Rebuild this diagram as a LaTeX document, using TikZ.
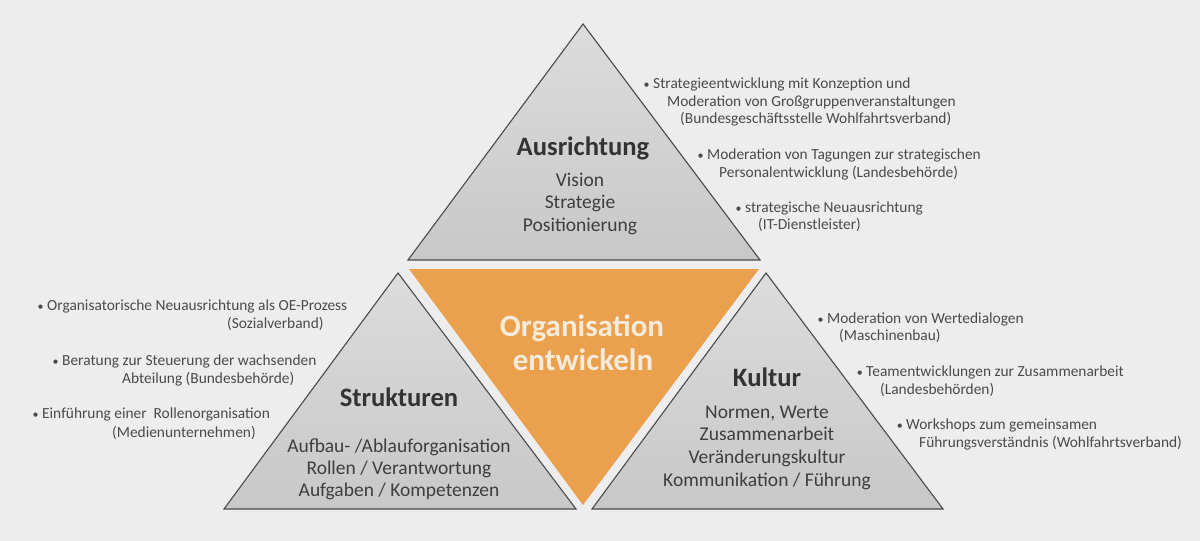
\documentclass[tikz,border=0pt]{standalone}
\usepackage{fontspec}
\setmainfont{Carlito}
\definecolor{bg}{HTML}{EDEDED}
\definecolor{tribord}{HTML}{4A4A4A}
\definecolor{tritop}{HTML}{DCDCDC}
\definecolor{tribot}{HTML}{C8C8C8}
\definecolor{orangefill}{HTML}{EBA04E}
\definecolor{cream}{HTML}{F5EBDA}
\definecolor{headc}{HTML}{333333}
\definecolor{bodyc}{HTML}{3E3E3E}
\definecolor{bulc}{HTML}{4A4A4A}
\tikzset{
  tri/.style={draw=tribord, line width=1.1pt, line join=miter, top color=tritop, bottom color=tribot},
  heading/.style={anchor=base, inner sep=0, text=headc, font=\fontsize{26.6}{30}\bfseries\selectfont},
  bodyline/.style={anchor=base, inner sep=0, text=bodyc, font=\fontsize{19.5}{22}\selectfont},
  orangetext/.style={anchor=base, inner sep=0, text=cream, font=\fontsize{31}{34}\bfseries\selectfont},
  bul/.style={anchor=base west, inner sep=0, text=bulc, font=\fontsize{15.4}{17}\selectfont},
}
\newcommand{\bt}{\llap{{\fontsize{12}{12}\selectfont\textbullet}\ }}
\begin{document}
\begin{tikzpicture}[x=1pt,y=-1pt]
\useasboundingbox (0,0) rectangle (1200,541);
\fill[bg] (0,0) rectangle (1200,541);
% triangles
\draw[tri] (583,24) -- (760,260) -- (408,260) -- cycle;
\fill[orangefill] (409,269) -- (759,269) -- (583,505) -- cycle;
\draw[tri] (398,273) -- (576,509) -- (224,509) -- cycle;
\draw[tri] (766,273) -- (943,509) -- (592,509) -- cycle;
% top triangle text
\node[heading] (ausr) at (583,155) {Ausrichtung};
\node[bodyline] (vision) at (580,186) {Vision};
\node[bodyline] (strat) at (580,208) {Strategie};
\node[bodyline] (posi) at (580,231) {Positionierung};
% orange
\node[orangetext] (org) at (582,336) {Organisation};
\node[orangetext] (entw) at (583,370) {entwickeln};
% left
\node[heading] (struk) at (399,406) {Strukturen};
\node[bodyline] (s1l) at (399,452) {Aufbau- /Ablauforganisation};
\node[bodyline] (s2l) at (399,474) {Rollen / Verantwortung};
\node[bodyline] (s3l) at (399,496) {Aufgaben / Kompetenzen};
% right
\node[heading] (kult) at (767,386) {Kultur};
\node[bodyline] (k1l) at (767,418) {Normen, Werte};
\node[bodyline] (k2l) at (767,440) {Zusammenarbeit};
\node[bodyline] (k3l) at (767,463) {Veränderungskultur};
\node[bodyline] (k4l) at (767,486) {Kommunikation / Führung};
% top right bullets
\node[bul] (a1) at (653,88) {\bt Strategieentwicklung mit Konzeption und};
\node[bul] (a1b) at (667,106) {Moderation von Großgruppenveranstaltungen};
\node[bul] (a1c) at (680,123) {(Bundesgeschäftsstelle Wohlfahrtsverband)};
\node[bul] (a2) at (707,159) {\bt Moderation von Tagungen zur strategischen};
\node[bul] (a2b) at (719,177) {Personalentwicklung (Landesbehörde)};
\node[bul] (a3) at (745,212) {\bt strategische Neuausrichtung};
\node[bul] (a3b) at (758,229) {(IT-Dienstleister)};
% left bullets
\node[bul] (b1) at (47,310) {\bt Organisatorische Neuausrichtung als OE-Prozess};
\node[bul] (b1b) at (227,328) {(Sozialverband)};
\node[bul] (b2) at (62,365) {\bt Beratung zur Steuerung der wachsenden};
\node[bul] (b2b) at (122,383) {Abteilung (Bundesbehörde)};
\node[bul] (b3) at (42,418) {\bt Einführung einer\ \ Rollenorganisation};
\node[bul] (b3b) at (112,437) {(Medienunternehmen)};
% right bullets
\node[bul] (c1) at (827,323) {\bt Moderation von Wertedialogen};
\node[bul] (c1b) at (839,340) {(Maschinenbau)};
\node[bul] (c2) at (866,376) {\bt Teamentwicklungen zur Zusammenarbeit};
\node[bul] (c2b) at (880,394) {(Landesbehörden)};
\node[bul] (c3) at (906,429) {\bt Workshops zum gemeinsamen};
\node[bul] (c3b) at (919,447) {Führungsverständnis (Wohlfahrtsverband)};
\end{tikzpicture}
\end{document}
